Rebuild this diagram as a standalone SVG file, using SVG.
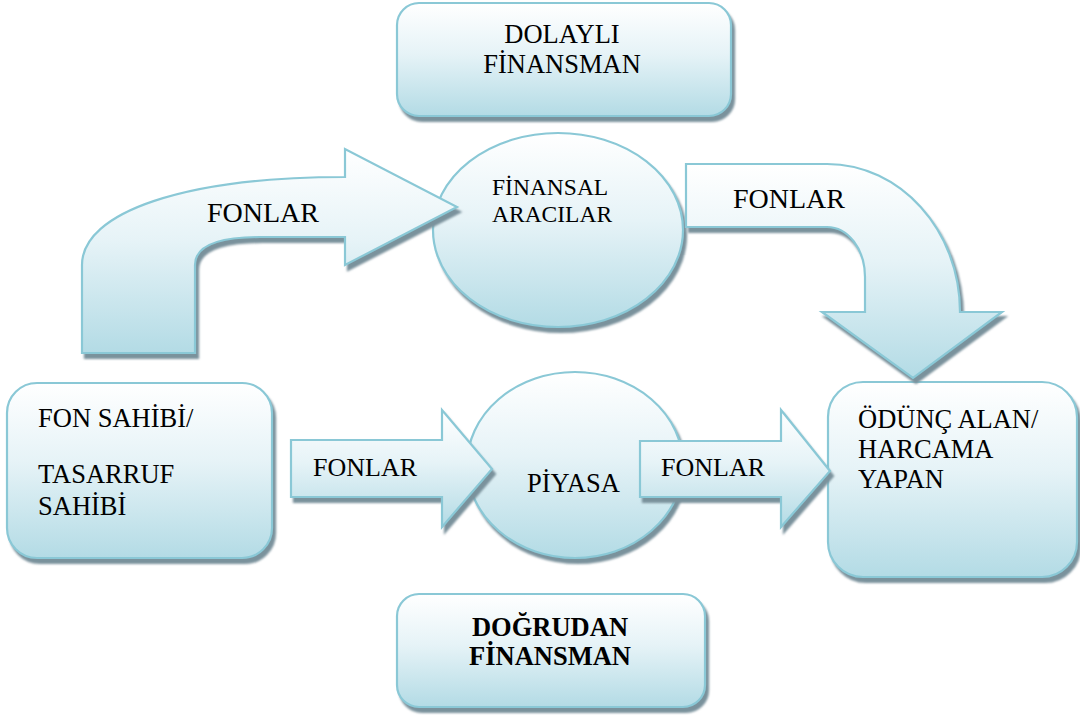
<svg xmlns="http://www.w3.org/2000/svg" width="1080" height="719" viewBox="0 0 1080 719">
  <defs>
    <linearGradient id="fillGrad" x1="0" y1="0" x2="0" y2="1">
      <stop offset="0" stop-color="#ffffff"/>
      <stop offset="0.45" stop-color="#e6f3f7"/>
      <stop offset="1" stop-color="#b3dbe5"/>
    </linearGradient>
    <filter id="shadow" x="-10%" y="-10%" width="125%" height="130%">
      <feDropShadow dx="3" dy="5" stdDeviation="0.8" flood-color="#7a929c" flood-opacity="1"/>
    </filter>
    <style>
      .shape { fill: url(#fillGrad); stroke: #8ac8d6; stroke-width: 2.2; filter: url(#shadow); }
      .t { font-family: "Liberation Serif", "DejaVu Serif", serif; fill: #000000; font-size: 26.5px; }
      .big { font-size: 28px; }
      .mid { font-size: 23.5px; }
      .sm { font-size: 26px; }
      .bold { font-weight: bold; }
      .c { text-anchor: middle; }
    </style>
  </defs>
  <rect width="1080" height="719" fill="#ffffff"/>

  <g id="dolayli-finansman">
    <rect class="shape" x="397" y="3" width="334" height="113" rx="22"/>
    <text class="t c" x="562" y="43">DOLAYLI</text>
    <text class="t c" x="562" y="73">FİNANSMAN</text>
  </g>

  <g id="fon-sahibi">
    <rect class="shape" x="7" y="383" width="265" height="175" rx="30"/>
    <text class="t" x="38" y="427">FON SAHİBİ/</text>
    <text class="t" x="38" y="483">TASARRUF</text>
    <text class="t" x="38" y="515">SAHİBİ</text>
  </g>

  <g id="odunc-alan">
    <rect class="shape" x="828" y="382" width="249" height="195" rx="35"/>
    <text class="t" x="858" y="428">ÖDÜNÇ ALAN/</text>
    <text class="t" x="858" y="458">HARCAMA</text>
    <text class="t" x="858" y="488">YAPAN</text>
  </g>

  <g id="dogrudan-finansman">
    <rect class="shape" x="397" y="594" width="308" height="113" rx="22"/>
    <text class="t c bold" x="550" y="636">DOĞRUDAN</text>
    <text class="t c bold" x="550" y="665">FİNANSMAN</text>
  </g>

  <g id="finansal-aracilar">
    <ellipse class="shape" cx="558" cy="230" rx="125" ry="97"/>
    <text class="t mid" x="492" y="195">FİNANSAL</text>
    <text class="t mid" x="492" y="222">ARACILAR</text>
  </g>

  <g id="piyasa">
    <ellipse class="shape" cx="575" cy="465" rx="108" ry="93"/>
    <text class="t" x="527" y="492">PİYASA</text>
  </g>

  <g id="connectors">
    <g id="arrow-fon-to-aracilar">
      <path class="shape" d="M82,353 L82,265 C82,212 185,177 345,177 L345,149 L457,207 L345,265 L345,237 L260,237 C220,237 195,245 195,265 L195,353 Z"/>
      <text class="t big" x="207" y="222">FONLAR</text>
    </g>
    <g id="arrow-aracilar-to-odunc">
      <path class="shape" d="M686,164 L827,164 C900,164 960,230 960,312 L1002,312 L913,378 L822,312 L865,312 L865,277 C865,249 848,227 827,227 L686,227 Z"/>
      <text class="t big" x="733" y="208">FONLAR</text>
    </g>
    <g id="arrow-fon-to-piyasa">
      <path class="shape" d="M291,440 L442,440 L442,410 L492,469 L442,527 L442,497 L291,497 Z"/>
      <text class="t sm" x="313" y="476">FONLAR</text>
    </g>
    <g id="arrow-piyasa-to-odunc">
      <path class="shape" d="M640,441 L781,441 L781,410 L830,471 L781,527 L781,497 L640,497 Z"/>
      <text class="t sm" x="661" y="476">FONLAR</text>
    </g>
  </g>
</svg>
